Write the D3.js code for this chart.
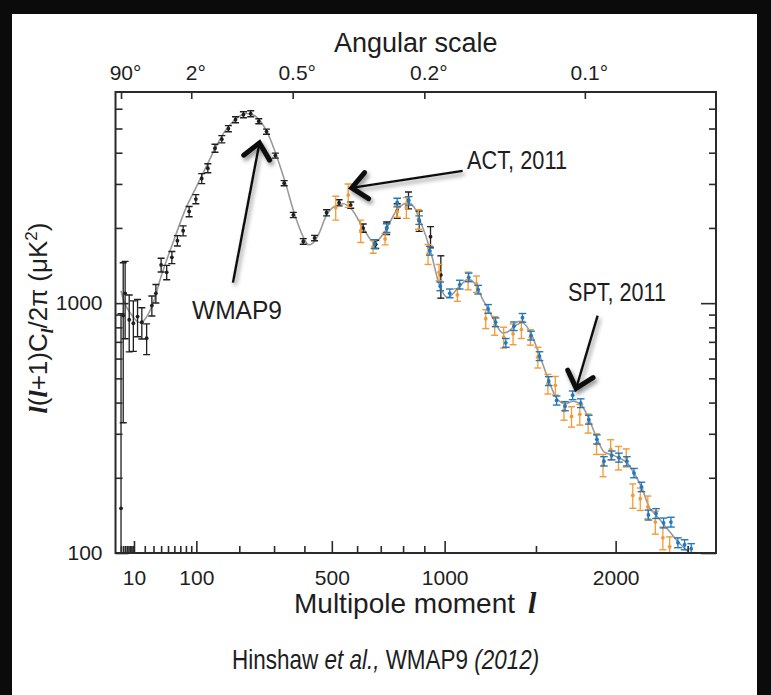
<!DOCTYPE html>
<html>
<head>
<meta charset="utf-8">
<script src="https://cdn.jsdelivr.net/npm/d3@7"></script>
<style>
  html, body { margin: 0; padding: 0; background: #0b0b0b; }
  svg { display: block; }
  text { font-family: "Liberation Sans", Arial, sans-serif; fill: #1e1e1e; }
  .ell { font-family: "Liberation Serif", "DejaVu Serif", serif; font-weight: bold; font-style: italic; }
</style>
</head>
<body>
<div id="chart"></div>
<script>
// WMAP9 binned spectrum (black)
var wmapL   = [2, 3, 4, 6.5, 9.5, 13, 17, 22, 28, 33, 40, 48, 56, 65, 75, 86, 99, 111, 124, 140, 156, 172, 190, 211, 231, 254, 277, 304, 332, 362, 396, 436, 480, 528, 574, 625, 678, 726, 773, 825, 875, 930, 981];
var wmapD   = [151, 892, 1095, 858, 831, 884, 839, 724, 978, 1095, 1422, 1329, 1525, 1778, 1949, 2328, 2609, 3154, 3470, 4171, 4531, 4994, 5425, 5680, 5733, 5346, 4859, 3897, 3022, 2254, 1767, 1823, 2300, 2522, 2469, 1998, 1719, 1998, 2343, 2585, 2137, 1845, 1297];
var wmapErr = [757, 560, 375, 220, 190, 150, 120, 102, 90, 93, 90, 88, 85, 85, 90, 110, 110, 145, 145, 155, 150, 140, 150, 155, 160, 125, 115, 90, 70, 55, 45, 45, 65, 70, 70, 75, 65, 115, 155, 200, 200, 180, 250];

// ACT 2011 (orange)
var actL   = [515, 564, 615, 667, 719, 773, 815, 872, 918, 972, 1065, 1121, 1165, 1215, 1264, 1314, 1367, 1415, 1467, 1511, 1571, 1616, 1669, 1716, 1768, 1821, 1875, 1917, 1967, 2019, 2071, 2115, 2166, 2218, 2270, 2323, 2371];
var actD   = [2415, 2707, 1949, 1683, 1806, 2328, 2415, 2171, 1573, 1329, 1079, 1231, 1194, 866, 814, 731, 754, 784, 731, 608, 476, 469, 372, 352, 359, 331, 274, 225, 260, 241, 241, 170, 165, 153, 133, 115, 106];
var actErr = [265, 290, 200, 100, 95, 120, 230, 195, 145, 100, 62, 100, 90, 75, 70, 70, 72, 62, 52, 58, 43, 40, 32, 33, 34, 29, 26, 23, 24, 26, 20, 19, 17, 16, 14, 12, 10];

// SPT 2011 (blue)
var sptL   = [673, 726, 773, 826, 875, 926, 978, 1026, 1077, 1124, 1174, 1228, 1269, 1326, 1372, 1421, 1471, 1521, 1576, 1624, 1676, 1723, 1774, 1825, 1877, 1923, 1974, 2022, 2075, 2123, 2174, 2222, 2275, 2328, 2380, 2430, 2478, 2526];
var sptD   = [1725, 1998, 2529, 2569, 2151, 1622, 1168, 1095, 1187, 1269, 1133, 949, 839, 694, 809, 874, 742, 614, 488, 408, 387, 428, 398, 342, 285, 233, 246, 241, 233, 209, 184, 142, 144, 132, 133, 110, 108, 104];
var sptErr = [70, 80, 100, 100, 85, 65, 47, 44, 48, 50, 45, 38, 34, 28, 32, 35, 30, 25, 20, 17, 16, 17, 16, 14, 12, 10, 10, 10, 10, 9, 8, 6.5, 6.5, 6, 6, 5, 5, 5];

// best-fit model curve (grey)
var modelL = [2, 3, 5, 8, 12, 16, 20, 30, 40, 50, 60, 80, 100, 120, 140, 160, 180, 200, 220, 240, 260, 280, 300, 320, 340, 360, 380, 400, 414, 430, 450, 480, 510, 544, 580, 625, 672, 720, 770, 822, 850, 880, 930, 972, 1015, 1077, 1120, 1160, 1200, 1228, 1269, 1308, 1340, 1372, 1420, 1471, 1518, 1576, 1624, 1680, 1723, 1774, 1825, 1877, 1923, 1978, 2022, 2075, 2123, 2174, 2229, 2275, 2350, 2430, 2515];
var modelD = [1120, 1040, 960, 900, 850, 835, 860, 1010, 1280, 1540, 1810, 2400, 2920, 3500, 4150, 4780, 5260, 5600, 5740, 5650, 5320, 4800, 4140, 3500, 2920, 2400, 2040, 1800, 1713, 1740, 1880, 2250, 2440, 2500, 2360, 1998, 1750, 1950, 2350, 2520, 2430, 2137, 1622, 1194, 1055, 1170, 1245, 1190, 1030, 949, 830, 760, 770, 805, 835, 755, 627, 491, 415, 395, 405, 393, 345, 288, 254, 247, 240, 230, 209, 184, 152, 142, 126, 111, 100];

// axis ticks
var xMajor = [10, 100, 500, 1000, 2000];
var xMinor = [2, 3, 4, 5, 6, 7, 8, 9, 20, 30, 40, 50, 60, 70, 80, 90, 200, 300, 400, 600, 700, 800, 900, 1500, 2500];
var yMajor = [100, 1000];
var yMinor = [200, 300, 400, 500, 600, 700, 800, 900, 2000, 3000, 4000, 5000, 6000];
var angleL = [2, 90, 360, 900, 1800];
var angleLabels = ["90", "2", "0.5", "0.2", "0.1"];

function init() {
    var w = 771, h = 695;
    var left = 115.5, right = 716, top = 92, bottom = 553;

    var svg = d3.select("#chart").append("svg")
        .attr("width", w)
        .attr("height", h);

    var defs = svg.append("defs");
    defs.append("clipPath").attr("id", "plotclip")
        .append("rect").attr("x", left).attr("y", top)
        .attr("width", right - left).attr("height", bottom - top);
    var f = defs.append("filter").attr("id", "shadow")
        .attr("x", "-50%").attr("y", "-50%").attr("width", "200%").attr("height", "200%");
    f.append("feDropShadow").attr("dx", 2).attr("dy", 3)
        .attr("stdDeviation", 2.2).attr("flood-color", "#000").attr("flood-opacity", 0.45);

    // black surround + white sheet
    svg.append("rect").attr("width", w).attr("height", h).attr("fill", "#0b0b0b");
    svg.append("rect").attr("x", 12).attr("y", 14).attr("width", 745).attr("height", h - 14).attr("fill", "#fff");

    var xScale = d3.scalePow().exponent(0.6)
        .domain([0, 2709])
        .range([113.06, right]);
    var yScale = d3.scaleLog()
        .domain([100, 7000])
        .range([bottom, top]);

    // model curve
    var model = modelL.map(function (l, i) { return { l: l, d: modelD[i] }; });
    var line = d3.line()
        .x(function (d) { return xScale(d.l); })
        .y(function (d) { return yScale(d.d); })
        .curve(d3.curveMonotoneX);
    svg.append("path")
        .datum(model)
        .attr("clip-path", "url(#plotclip)")
        .attr("d", line)
        .attr("fill", "none")
        .attr("stroke", "#9a9a9a")
        .attr("stroke-width", 1.6);

    function errorBars(L, D, E, color, cap) {
        var rows = L.map(function (l, i) { return { l: l, d: D[i], e: E[i] }; });
        var g = svg.append("g").attr("clip-path", "url(#plotclip)")
            .attr("stroke", color).attr("fill", color);
        var pt = g.selectAll("g").data(rows).enter().append("g");
        pt.append("line")
            .attr("x1", function (d) { return xScale(d.l); })
            .attr("x2", function (d) { return xScale(d.l); })
            .attr("y1", function (d) { return yScale(d.d + d.e); })
            .attr("y2", function (d) { return d.d - d.e > 100 ? yScale(d.d - d.e) : bottom + 5; })
            .attr("stroke-width", 1.3);
        pt.append("line")
            .attr("x1", function (d) { return xScale(d.l) - cap; })
            .attr("x2", function (d) { return xScale(d.l) + cap; })
            .attr("y1", function (d) { return yScale(d.d + d.e); })
            .attr("y2", function (d) { return yScale(d.d + d.e); })
            .attr("stroke-width", 1.4);
        pt.filter(function (d) { return d.d - d.e > 100; }).append("line")
            .attr("x1", function (d) { return xScale(d.l) - cap; })
            .attr("x2", function (d) { return xScale(d.l) + cap; })
            .attr("y1", function (d) { return yScale(d.d - d.e); })
            .attr("y2", function (d) { return yScale(d.d - d.e); })
            .attr("stroke-width", 1.4);
        pt.append("circle")
            .attr("cx", function (d) { return xScale(d.l); })
            .attr("cy", function (d) { return yScale(d.d); })
            .attr("r", 1.9)
            .attr("stroke", "none");
    }

    errorBars(wmapL, wmapD, wmapErr, "#1f1f1f", 3.5);
    errorBars(actL, actD, actErr, "#f39a32", 3.5);
    errorBars(sptL, sptD, sptErr, "#1f78c1", 3.8);

    // frame
    svg.append("rect")
        .attr("x", left).attr("y", top)
        .attr("width", right - left).attr("height", bottom - top)
        .attr("fill", "none").attr("stroke", "#2a2a2a").attr("stroke-width", 2);

    function styleAxis(g) {
        g.select(".domain").remove();
        g.selectAll(".tick line").attr("stroke", "#2a2a2a").attr("stroke-width", 1.6);
        g.selectAll(".tick text").attr("fill", "#1e1e1e");
    }

    // bottom axis
    svg.append("g").attr("transform", "translate(0," + bottom + ")")
        .call(d3.axisBottom(xScale).tickValues(xMinor).tickSizeInner(-7).tickFormat(""))
        .call(styleAxis);
    svg.append("g").attr("transform", "translate(0," + bottom + ")")
        .call(d3.axisBottom(xScale).tickValues(xMajor).tickSizeInner(-12).tickPadding(17).tickFormat(d3.format("d")))
        .call(styleAxis)
        .selectAll("text").style("font-size", "21px");

    // top axis (angular scale)
    var topAxis = svg.append("g").attr("transform", "translate(0," + top + ")")
        .call(d3.axisTop(xScale).tickValues(angleL).tickSizeInner(-7).tickPadding(12)
            .tickFormat(function (d, i) { return angleLabels[i] + "\u00b0"; }))
        .call(styleAxis);
    topAxis.selectAll("text").style("font-size", "21px").attr("dx", 4);

    // left axis
    svg.append("g").attr("transform", "translate(" + left + ",0)")
        .call(d3.axisLeft(yScale).tickValues(yMinor).tickSizeInner(-7).tickFormat(""))
        .call(styleAxis);
    svg.append("g").attr("transform", "translate(" + left + ",0)")
        .call(d3.axisLeft(yScale).tickValues(yMajor).tickSizeInner(-13).tickPadding(13).tickFormat(d3.format("d")))
        .call(styleAxis)
        .selectAll("text").style("font-size", "21px");

    // right axis
    svg.append("g").attr("transform", "translate(" + right + ",0)")
        .call(d3.axisRight(yScale).tickValues(yMinor).tickSizeInner(-7).tickFormat(""))
        .call(styleAxis);
    svg.append("g").attr("transform", "translate(" + right + ",0)")
        .call(d3.axisRight(yScale).tickValues(yMajor).tickSizeInner(-15).tickFormat(""))
        .call(styleAxis);

    // titles
    svg.append("text")
        .attr("x", (left + right) / 2).attr("y", 52)
        .attr("text-anchor", "middle")
        .style("font-size", "27px")
        .text("Angular scale");

    var xt = svg.append("text")
        .attr("x", 294).attr("y", 613)
        .style("font-size", "28px");
    xt.append("tspan").text("Multipole moment");
    xt.append("tspan").attr("class", "ell").attr("dx", 13).style("font-size", "30px").text("l");

    var yt = svg.append("text")
        .attr("transform", "translate(47," + 318 + ") rotate(-90)")
        .attr("text-anchor", "middle")
        .style("font-size", "26px");
    yt.append("tspan").attr("class", "ell").text("l");
    yt.append("tspan").text("(");
    yt.append("tspan").attr("class", "ell").text("l");
    yt.append("tspan").text("+1)C");
    yt.append("tspan").attr("class", "ell").attr("dy", 6).style("font-size", "17px").text("l");
    yt.append("tspan").attr("dy", -6).text("/2\u03c0 (\u03bcK");
    yt.append("tspan").attr("dy", -10).style("font-size", "17px").text("2");
    yt.append("tspan").attr("dy", 10).text(")");

    // caption, squeezed horizontally to mimic the condensed face
    var cap = svg.append("text")
        .attr("transform", "translate(232,669) scale(0.833,1)")
        .style("font-size", "27px");
    cap.append("tspan").text("Hinshaw ");
    cap.append("tspan").style("font-style", "italic").text("et al.,");
    cap.append("tspan").text(" WMAP9 ");
    cap.append("tspan").style("font-style", "italic").text("(2012)");

    // annotations
    var notes = [
        { text: "WMAP9", x: 192, y: 319, width: 90, from: [183.5, 1208], to: [256, 4379] },
        { text: "ACT, 2011", x: 467, y: 169, width: 100, from: [1092, 3385], to: [578, 2894] },
        { text: "SPT, 2011", x: 568, y: 301, width: 98, from: [1882, 892], to: [1745, 456] }
    ];
    notes.forEach(function (n) {
        svg.append("text")
            .attr("x", n.x).attr("y", n.y)
            .attr("textLength", n.width).attr("lengthAdjust", "spacingAndGlyphs")
            .style("font-size", "26px")
            .text(n.text);
        var x0 = xScale(n.from[0]), y0 = yScale(n.from[1]);
        var x1 = xScale(n.to[0]), y1 = yScale(n.to[1]);
        var a = Math.atan2(y1 - y0, x1 - x0);
        var len = 20, spread = 0.72;
        var g = svg.append("g").attr("filter", "url(#shadow)");
        g.append("line")
            .attr("x1", x0).attr("y1", y0).attr("x2", x1 - 3 * Math.cos(a)).attr("y2", y1 - 3 * Math.sin(a))
            .attr("stroke", "#111").attr("stroke-width", 2.4);
        g.append("path")
            .attr("d", "M" + (x1 - len * Math.cos(a - spread)) + "," + (y1 - len * Math.sin(a - spread)) +
                "L" + x1 + "," + y1 +
                "L" + (x1 - len * Math.cos(a + spread)) + "," + (y1 - len * Math.sin(a + spread)))
            .attr("fill", "none").attr("stroke", "#111").attr("stroke-width", 5)
            .attr("stroke-linecap", "round").attr("stroke-linejoin", "miter");
    });
}

window.onload = init;
</script>
</body>
</html>
